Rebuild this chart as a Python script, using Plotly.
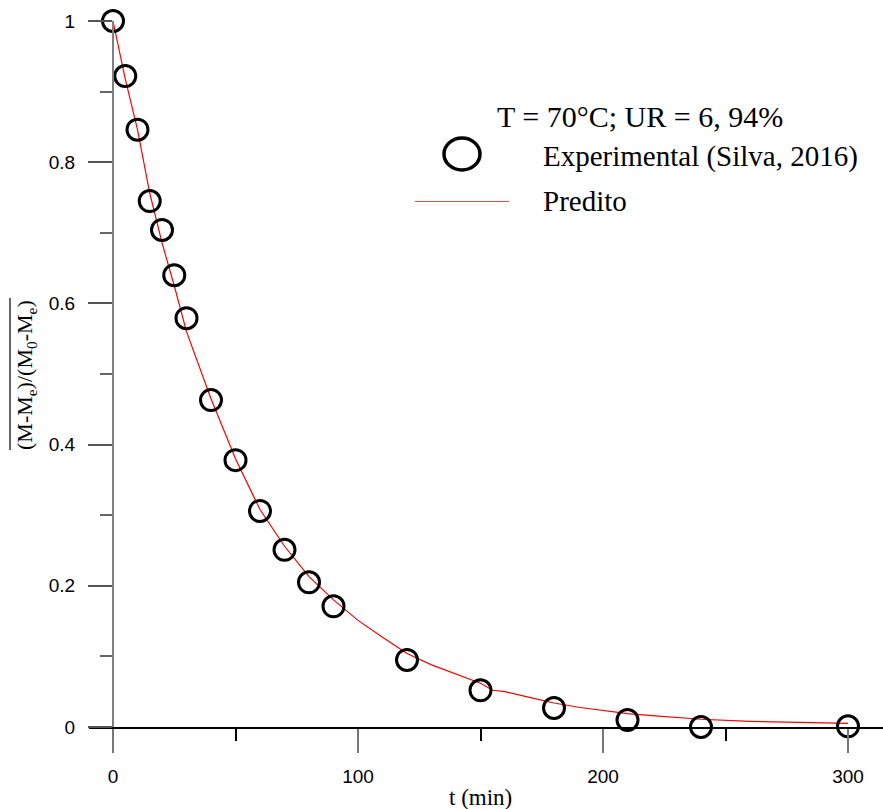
import plotly.graph_objects as go

# Experimental data
t_exp = [0, 5, 10, 15, 20, 25, 30, 40, 50, 60, 70, 80, 90, 120, 150, 180, 210, 240, 300]
y_exp = [1.0, 0.922, 0.846, 0.745, 0.704, 0.640, 0.579, 0.463, 0.378, 0.306, 0.251, 0.205,
         0.171, 0.095, 0.052, 0.027, 0.010, 0.0, 0.001]

# Predicted curve
t_pred = [0, 5, 10, 15, 20, 25, 30, 40, 50, 60, 70, 80, 90, 100, 110, 120, 130, 140, 150,
          155, 160, 170, 180, 190, 200, 210, 220, 240, 260, 280, 300]
y_pred = [1.0, 0.918, 0.846, 0.756, 0.686, 0.625, 0.560, 0.465, 0.380, 0.308, 0.256, 0.213,
          0.180, 0.151, 0.127, 0.104, 0.088, 0.075, 0.062, 0.052, 0.050, 0.042, 0.034,
          0.028, 0.023, 0.019, 0.016, 0.011, 0.008, 0.0065, 0.005]

x_ticks = [0, 100, 200, 300]
y_ticks = [0, 0.2, 0.4, 0.6, 0.8, 1.0]
y_tick_labels = ["0", "0.2", "0.4", "0.6", "0.8", "1"]

legend_title = "T = 70°C; UR = 6, 94%"
label_exp = "Experimental (Silva, 2016)"
label_pred = "Predito"
x_title = "t (min)"
y_title = "(M-M<sub>e</sub>)/(M<sub>0</sub>-M<sub>e</sub>)"

SERIF = "Liberation Serif, Times New Roman, serif"
SANS = "Liberation Sans, Arial, sans-serif"

W, H = 883, 809
ML, MR, MT, MB = 89, 0, 21, 82
plot_w = W - ML - MR
plot_h = H - MT - MB
px_per_unit = (848 - 113) / 300.0
x_lo = -(113 - ML) / px_per_unit
x_hi = 300 + (W - MR - 848) / px_per_unit


def px(xp):
    return (xp - ML) / plot_w


def py(yp):
    return (H - MB - yp) / plot_h


fig = go.Figure()
fig.add_trace(go.Scatter(
    x=t_pred, y=y_pred, mode="lines",
    line=dict(color="#ff0000", width=1.2),
    showlegend=False, cliponaxis=False, hoverinfo="skip"))
fig.add_trace(go.Scatter(
    x=t_exp, y=y_exp, mode="markers",
    marker=dict(symbol="circle-open", size=21, color="black", line=dict(width=3, color="black")),
    showlegend=False, cliponaxis=False))

fig.update_layout(
    width=W, height=H,
    margin=dict(l=ML, r=MR, t=MT, b=MB, pad=0),
    paper_bgcolor="white", plot_bgcolor="white",
    showlegend=False,
    xaxis=dict(
        range=[x_lo, x_hi], showgrid=False, zeroline=False,
        showline=True, linecolor="black", linewidth=1.5,
        tickmode="array", tickvals=x_ticks, ticktext=[str(v) for v in x_ticks],
        ticks="outside", ticklen=24, tickwidth=1.5, tickcolor="#777777",
        ticklabelstandoff=7,
        tickfont=dict(family=SANS, size=19, color="black"),
        minor=dict(tickvals=[50, 150, 250], ticks="outside", ticklen=12, tickwidth=1.5,
                   tickcolor="black", showgrid=False),
    ),
    yaxis=dict(
        range=[0, 1], showgrid=False, zeroline=False,
        anchor="free", position=px(113),
        showline=True, linecolor="#808080", linewidth=2,
        tickmode="array", tickvals=y_ticks, ticktext=y_tick_labels,
        ticks="outside", ticklen=24, tickwidth=1.5, tickcolor="#555555",
        ticklabelstandoff=9,
        tickfont=dict(family=SANS, size=19, color="black"),
        minor=dict(tickvals=[0.1, 0.3, 0.5, 0.7, 0.9], ticks="outside", ticklen=12,
                   tickwidth=1.5, tickcolor="#666666", showgrid=False),
    ),
)

# X axis title
fig.add_annotation(
    xref="paper", yref="paper", x=px(480), y=py(797), text=x_title,
    showarrow=False, xanchor="center", yanchor="middle",
    font=dict(family=SERIF, size=23, color="black"))

# Y axis title with overline
fig.add_annotation(
    xref="paper", yref="paper", x=px(26), y=py(375), text=y_title, textangle=-90,
    showarrow=False, xanchor="center", yanchor="middle",
    font=dict(family=SERIF, size=22, color="black"))
fig.add_shape(type="line", xref="paper", yref="paper",
              x0=px(10), x1=px(10), y0=py(450), y1=py(298),
              line=dict(color="#333333", width=1.5))

# Legend (drawn manually)
fig.add_annotation(xref="paper", yref="paper", x=px(495), y=py(117), text=legend_title,
                   showarrow=False, xanchor="left", yanchor="middle",
                   font=dict(family=SERIF, size=30, color="black"))
fig.add_annotation(xref="paper", yref="paper", x=px(541), y=py(156), text=label_exp,
                   showarrow=False, xanchor="left", yanchor="middle",
                   font=dict(family=SERIF, size=29, color="black"))
fig.add_annotation(xref="paper", yref="paper", x=px(541), y=py(201), text=label_pred,
                   showarrow=False, xanchor="left", yanchor="middle",
                   font=dict(family=SERIF, size=29, color="black"))
fig.add_shape(type="circle", xref="paper", yref="paper",
              xsizemode="pixel", ysizemode="pixel",
              xanchor=px(462), yanchor=py(154),
              x0=-18, x1=18, y0=-16, y1=16,
              line=dict(color="black", width=3.5))
fig.add_shape(type="line", xref="paper", yref="paper",
              x0=px(415), x1=px(509), y0=py(201.5), y1=py(201.5),
              line=dict(color="#ff4444", width=1.2))

fig.write_html("out.html")
